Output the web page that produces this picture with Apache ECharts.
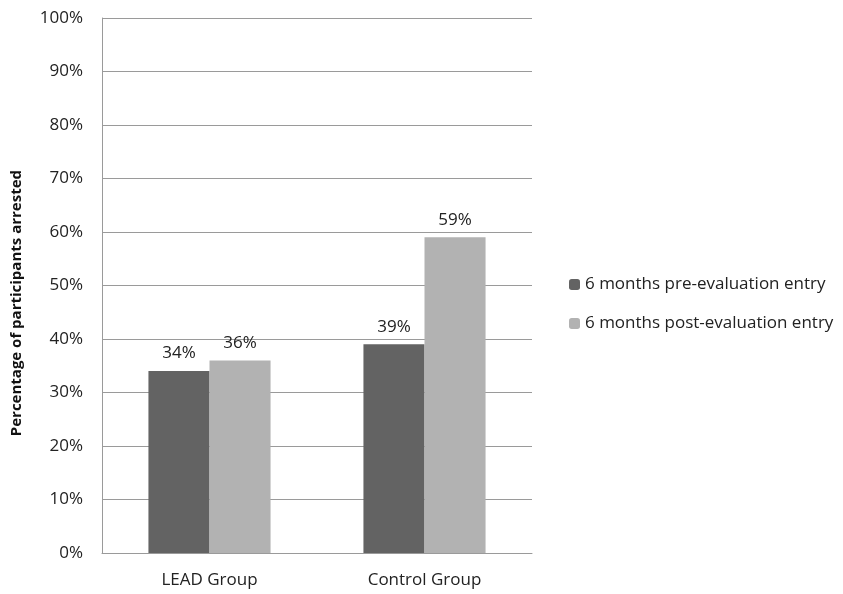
<!DOCTYPE html>
<html>
<head>
<meta charset="utf-8">
<script src="https://cdn.jsdelivr.net/npm/echarts@6/dist/echarts.min.js"></script>
<style>
  html, body { margin: 0; padding: 0; background: #fff; }
  #chart { width: 843px; height: 594px; }
</style>
</head>
<body>
<div id="chart"></div>
<script>
// 数据
const categories = ['LEAD Group', 'Control Group'];
const preEntry = [34, 39];
const postEntry = [36, 59];
const seriesNames = ['6 months pre-evaluation entry', '6 months post-evaluation entry'];

(function () {
  const chart = echarts.init(document.getElementById('chart'));
  const font = 'Open Sans';

  let option = {
    animation: false,
    textStyle: { fontFamily: font },
    grid: {
      left: 102,
      right: 311,
      top: 18,
      bottom: 41
    },
    legend: {
      orient: 'vertical',
      left: 564,
      top: 271,
      itemWidth: 11,
      itemHeight: 11,
      itemGap: 22,
      textStyle: { fontSize: 17, color: '#222', fontFamily: font },
      data: seriesNames
    },
    // 纵轴标题
    graphic: [{
      type: 'text',
      left: 9,
      top: 170,
      rotation: Math.PI / 2,
      style: {
        text: 'Percentage of participants arrested',
        fontSize: 15,
        fontWeight: 'bold',
        fill: '#111',
        fontFamily: font
      }
    }],
    xAxis: {
      type: 'category',
      data: categories,
      axisTick: { show: false },
      axisLine: { lineStyle: { color: '#9a9a9a', width: 1 } },
      axisLabel: { color: '#222', fontSize: 17, margin: 19 }
    },
    yAxis: {
      type: 'value',
      min: 0,
      max: 100,
      interval: 10,
      axisLine: { show: true, lineStyle: { color: '#9a9a9a' } },
      axisTick: { show: false },
      axisLabel: { formatter: '{value}%', color: '#222', fontSize: 17, margin: 19 },
      splitLine: { lineStyle: { color: '#9a9a9a' } }
    },
    series: [
      {
        name: seriesNames[0],
        type: 'bar',
        data: preEntry,
        barWidth: '28.4%',
        barGap: '0%',
        itemStyle: { color: '#636363' },
        label: { show: true, position: 'top', formatter: '{c}%', fontSize: 17, color: '#222', distance: 9 }
      },
      {
        name: seriesNames[1],
        type: 'bar',
        data: postEntry,
        barWidth: '28.4%',
        itemStyle: { color: '#b2b2b2' },
        label: { show: true, position: 'top', formatter: '{c}%', fontSize: 17, color: '#222', distance: 9 }
      }
    ]
  };

  chart.setOption(option);
})();
</script>
</body>
</html>
